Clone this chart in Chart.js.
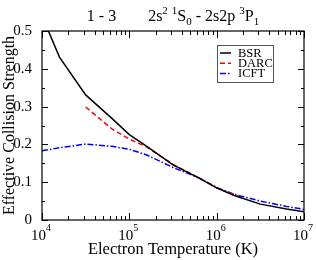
<!DOCTYPE html>
<html><head><meta charset="utf-8">
<style>html,body{margin:0;padding:0;background:#fff}canvas{display:block}</style>
<script src="https://cdn.jsdelivr.net/npm/chart.js@4/dist/chart.umd.min.js"></script>
</head><body>
<canvas id="c" width="316" height="260"></canvas>
<script>
const temps = [1e4, 1.585e4, 3.162e4, 6.31e4, 1e5, 1.585e5, 3.162e5, 6.31e5, 1e6, 1.585e6, 3.162e6, 6.31e6, 1e7];
const bsr  = [0.54, 0.431, 0.331, 0.269, 0.226, 0.195, 0.146, 0.111, 0.085, 0.065, 0.042, 0.029, 0.022];
const darcTemps = [3.162e4, 6.31e4, 1e5, 1.585e5, 3.162e5, 6.31e5, 1e6, 1.995e6];
const darc = [0.299, 0.241, 0.214, 0.193, 0.147, 0.111, 0.085, 0.058];
const icft = [0.183, 0.191, 0.201, 0.195, 0.187, 0.172, 0.139, 0.111, 0.086, 0.068, 0.050, 0.036, 0.028];
const xDecades = [4, 5, 6, 7];
const yTicks = [0, 0.1, 0.2, 0.3, 0.4, 0.5];
const seriesLabels = ['BSR', 'DARC', 'ICFT'];
const SERIF = '"Liberation Serif", "DejaVu Serif", serif';

function pts(xs, ys) { return xs.map((x, i) => ({x: x, y: ys[i]})); }

const decor = {
  id: 'decor',
  afterDatasetsDraw(chart) {
    const ctx = chart.ctx, a = chart.chartArea;
    const xs = chart.scales.x, ys = chart.scales.y;
    ctx.save();
    ctx.strokeStyle = '#000';
    ctx.lineWidth = 1;
    // ticks
    ctx.beginPath();
    for (let d = xDecades[0]; d <= xDecades[xDecades.length - 1]; d++) {
      for (let m = 1; m <= 9; m++) {
        if (d === xDecades[xDecades.length - 1] && m > 1) break;
        const px = Math.round(xs.getPixelForValue(m * Math.pow(10, d))) + 0.5;
        const len = m === 1 ? 7 : 4;
        ctx.moveTo(px, a.bottom); ctx.lineTo(px, a.bottom - len);
        ctx.moveTo(px, a.top); ctx.lineTo(px, a.top + len);
      }
    }
    for (let v = 0; v <= 0.5001; v += 0.05) {
      const py = Math.round(ys.getPixelForValue(v)) + 0.5;
      const major = Math.abs(v * 10 - Math.round(v * 10)) < 1e-6;
      const len = major ? 6 : 3;
      ctx.moveTo(a.left, py); ctx.lineTo(a.left + len, py);
      ctx.moveTo(a.right, py); ctx.lineTo(a.right - len, py);
    }
    ctx.stroke();
    // frame
    ctx.lineWidth = 1.2;
    ctx.strokeRect(a.left, a.top, a.right - a.left, a.bottom - a.top);

    // x tick labels 10^n
    ctx.fillStyle = '#000';
    ctx.textBaseline = 'alphabetic';
    xDecades.forEach(d => {
      const px = xs.getPixelForValue(Math.pow(10, d));
      ctx.font = '15px ' + SERIF;
      const w1 = ctx.measureText('10').width;
      ctx.font = '10px ' + SERIF;
      const w2 = ctx.measureText(String(d)).width;
      const x0 = px - (w1 + w2) / 2 - 1;
      ctx.font = '15px ' + SERIF;
      ctx.textAlign = 'left';
      ctx.fillText('10', x0, 240);
      ctx.font = '10px ' + SERIF;
      ctx.fillText(String(d), x0 + w1, 231);
    });

    // title with super/subscripts
    const segs = [
      ['1 - 3', 0], ['\u2003\u2003', 0], ['2s', 0], ['2', 1], [' ', 0], ['1', 1], ['S', 0], ['0', -1],
      [' - 2s2p ', 0], ['3', 1], ['P', 0], ['1', -1]
    ];
    const fmain = '16px ' + SERIF, fsmall = '11px ' + SERIF;
    let total = 0;
    segs.forEach(s => { ctx.font = s[1] ? fsmall : fmain; total += ctx.measureText(s[0]).width; });
    let tx = (a.left + a.right) / 2 - total / 2;
    segs.forEach(s => {
      ctx.font = s[1] ? fsmall : fmain;
      const yy = s[1] === 1 ? 14 : (s[1] === -1 ? 25 : 21);
      ctx.textAlign = 'left';
      ctx.fillText(s[0], tx, yy);
      tx += ctx.measureText(s[0]).width;
    });

    // legend
    ctx.strokeStyle = '#555';
    ctx.lineWidth = 1;
    ctx.strokeRect(217.5, 45.5, 56, 37);
    ctx.font = '12.5px ' + SERIF;
    ctx.textBaseline = 'middle';
    chart.data.datasets.forEach((ds, i) => {
      const yy = 53 + i * 10.3;
      ctx.beginPath();
      ctx.strokeStyle = ds.borderColor;
      ctx.lineWidth = 1.5;
      ctx.setLineDash(ds.borderDash || []);
      ctx.moveTo(220, yy); ctx.lineTo(231, yy);
      ctx.stroke();
      ctx.setLineDash([]);
      ctx.fillStyle = '#000';
      ctx.fillText(ds.label, 238, yy + 0.5);
    });
    ctx.restore();
  }
};

new Chart(document.getElementById('c'), {
  type: 'line',
  data: {
    datasets: [
      { label: seriesLabels[0], data: pts(temps, bsr), borderColor: '#000', borderWidth: 1.5, pointRadius: 0, fill: false, tension: 0 },
      { label: seriesLabels[1], data: pts(darcTemps, darc), borderColor: '#ff0000', borderWidth: 1.5, borderDash: [5, 3], pointRadius: 0, fill: false, tension: 0 },
      { label: seriesLabels[2], data: pts(temps, icft), borderColor: '#0000ff', borderWidth: 1.5, borderDash: [6, 2, 1.5, 2], pointRadius: 0, fill: false, tension: 0 }
    ]
  },
  options: {
    responsive: false,
    devicePixelRatio: 1,
    animation: false,
    layout: { padding: { top: 31, right: 12, left: 0, bottom: 0 } },
    plugins: { legend: { display: false }, title: { display: false }, tooltip: { enabled: false } },
    scales: {
      x: {
        type: 'logarithmic', min: 1e4, max: 1e7,
        grid: { display: false }, border: { display: false },
        ticks: { display: false },
        title: { display: true, text: 'Electron Temperature (K)', color: '#000', font: { family: SERIF, size: 16.5 }, padding: 0 },
        afterFit(s) { s.height = 40; }
      },
      y: {
        min: 0, max: 0.5,
        grid: { display: false }, border: { display: false },
        afterBuildTicks(s) { s.ticks = yTicks.map(v => ({ value: v })); },
        ticks: { color: '#000', font: { family: SERIF, size: 15 }, padding: 2,
          callback: v => (v === 0 ? '0' : v.toFixed(1)) },
        title: { display: true, text: 'Effective Collision Strength', color: '#000', font: { family: SERIF, size: 16 }, padding: 0 },
        afterFit(s) { s.width = 42; }
      }
    }
  },
  plugins: [decor]
});
</script>
</body></html>
